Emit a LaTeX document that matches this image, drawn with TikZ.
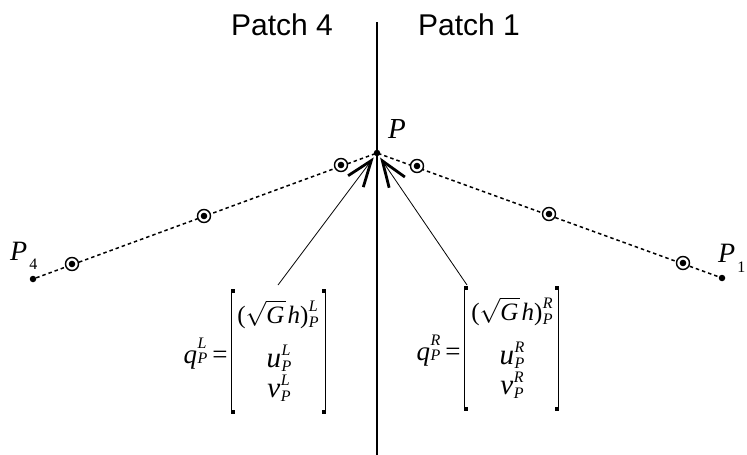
\documentclass[tikz,border=0pt]{standalone}
\usepackage{fontspec}
\usepackage{amsmath}
\setmainfont{Liberation Serif}
\setsansfont{Liberation Sans}
\usetikzlibrary{arrows.meta,calc}
\newcommand\scrx[4]{\kern0.5pt\rlap{\raisebox{#3}{\fontsize{16}{16}\selectfont\itshape #1}}\raisebox{#4}{\fontsize{16}{16}\selectfont\itshape #2}}
\newcommand\scrs[2]{\scrx{#1}{#2}{12pt}{-4pt}}
\newcommand\sqG{\(\sqrt{\text{\itshape G\kern1pt}}\)}
\begin{document}
\begin{tikzpicture}[x=1pt,y=-1pt,
  dot/.style={circle,fill,inner sep=0pt,minimum size=6.5pt},
  cpt/.style={circle,draw,fill=white,line width=1.4pt,minimum size=13pt,inner sep=0pt,
    path picture={\fill[black] (path picture bounding box.center) circle (3.3pt);}},
  dashline/.style={line width=1.5pt,dash pattern=on 3.5pt off 3pt},
  ptr/.style={line width=0.8pt,-{Straight Barb[length=26pt,width=19pt,line width=2.8pt]}},
  patch/.style={font=\sffamily\fontsize{30}{32}\selectfont,anchor=base},
  lab/.style={font=\fontsize{29}{32}\selectfont,inner sep=0pt},
  mrow/.style={font=\fontsize{29}{30}\selectfont,anchor=base,inner sep=0pt},
  mfirst/.style={mrow,font=\fontsize{25}{28}\selectfont},
  mbox/.style={inner sep=0pt,minimum width=93pt,minimum height=123pt},
  brk/.style={line width=1.3pt}]
\useasboundingbox (0,0) rectangle (747,455);
% divider
\coordinate (top) at (377,22);
\coordinate (bot) at (377,455);
\draw[line width=1.4pt] (top) -- (bot);
% points
\node[dot] (P) at (377,153) {};
\node[dot] (P4) at (33,279) {};
\node[dot] (P1) at (722,278) {};
\draw[dashline] (P4) -- (P.center) -- (P1);
\node[cpt] (l1) at (72,264) {};
\node[cpt] (l2) at (204,216) {};
\node[cpt] (l3) at (341,165) {};
\node[cpt] (r1) at (417,166) {};
\node[cpt] (r2) at (549,214) {};
\node[cpt] (r3) at (683,263) {};
% labels
\node[patch] (pt4) at (282,35) {Patch 4};
\node[patch] (pt1) at (469,35) {Patch 1};
\node[lab,anchor=base west] (Plab) at (388,138) {\itshape P};
\node[lab,anchor=base west,font=\fontsize{28}{30}\selectfont] (P4lab) at (10,260) {\itshape P\kern2pt\raisebox{-9pt}{\upshape\fontsize{16}{16}\selectfont 4}};
\node[lab,anchor=base west,font=\fontsize{28}{30}\selectfont] (P1lab) at (718,262) {\itshape P\kern2pt\raisebox{-10pt}{\upshape\fontsize{16}{16}\selectfont 1}};
% left matrix
\node[mbox] (mL) at (278.5,351.5) {};
\draw[brk] (mL.north west) -- (mL.south west);
\draw[brk] (mL.north east) -- (mL.south east);
\fill (mL.north west) ++(-0.65,-0.5) rectangle ++(3.8,3.8);
\fill (mL.south west) ++(-0.65,0.5) rectangle ++(3.8,-3.8);
\fill (mL.north east) ++(0.65,-0.5) rectangle ++(-3.8,3.8);
\fill (mL.south east) ++(0.65,0.5) rectangle ++(-3.8,-3.8);
\node[mfirst] (L1) at (278,323) {(\sqG\kern2pt\textit{h})\scrs{L}{P}};
\node[mrow] (L2) at (279,367) {\textit{u}\scrs{L}{P}};
\node[mrow] (L3) at (279,397) {\textit{v}\scrs{L}{P}};
\node[mrow,anchor=base east,font=\fontsize{27}{30}\selectfont] (qL) at (mL.west |- 0,363) {\textit{q}\scrx{L}{P}{15pt}{0pt}\kern5pt=\kern4pt};
% right matrix
\node[mbox] (mR) at (511.5,348.5) {};
\draw[brk] (mR.north west) -- (mR.south west);
\draw[brk] (mR.north east) -- (mR.south east);
\fill (mR.north west) ++(-0.65,-0.5) rectangle ++(3.8,3.8);
\fill (mR.south west) ++(-0.65,0.5) rectangle ++(3.8,-3.8);
\fill (mR.north east) ++(0.65,-0.5) rectangle ++(-3.8,3.8);
\fill (mR.south east) ++(0.65,0.5) rectangle ++(-3.8,-3.8);
\node[mfirst] (R1) at (512,320) {(\sqG\kern2pt\textit{h})\scrs{R}{P}};
\node[mrow] (R2) at (512,364) {\textit{u}\scrs{R}{P}};
\node[mrow] (R3) at (512,394) {\textit{v}\scrs{R}{P}};
\node[mrow,anchor=base east,font=\fontsize{27}{30}\selectfont] (qR) at (mR.west |- 0,360) {\textit{q}\scrx{R}{P}{15pt}{0pt}\kern5pt=\kern4pt};
% pointers
\coordinate (aL) at (278,285);
\coordinate (aR) at (467,285);
\draw[ptr,shorten >=2pt] (aL) -- (P);
\draw[ptr,shorten >=2pt] (aR) -- (P);
\end{tikzpicture}
\end{document}
